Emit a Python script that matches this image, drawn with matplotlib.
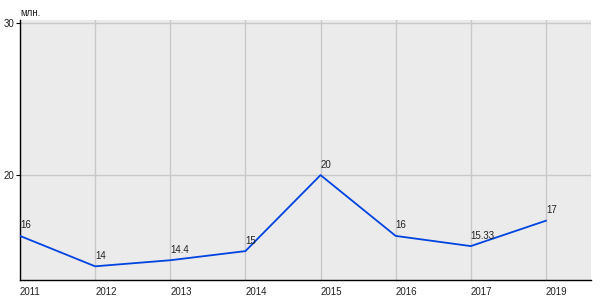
import matplotlib
matplotlib.use("Agg")
import matplotlib.pyplot as plt

plt.rcParams['font.family'] = ['Liberation Sans', 'DejaVu Sans']

years = ["2011", "2012", "2013", "2014", "2015", "2016", "2017", "2019"]
values = [16, 14, 14.4, 15, 20, 16, 15.33, 17]
labels = ["16", "14", "14.4", "15", "20", "16", "15.33", "17"]
yticks = [20, 30]
unit = "млн."

fig = plt.figure(figsize=(6, 3), dpi=100)
ax = fig.add_axes([20/600, 20/300, 571/600, 260/300])
ax.set_facecolor("#EBEBEB")
x = list(range(len(years)))
ax.plot(x, values, color="#0044E0", lw=1.3, zorder=3)
for xi, v, lab in zip(x, values, labels):
    ax.annotate(lab, (xi, v), xytext=(0, 4), textcoords="offset points",
                fontsize=7, color="#222222", ha="left", va="bottom")
ax.set_xlim(0, 7.6)
ax.set_ylim(13.1, 30.2)
ax.set_xticks(x)
ax.set_xticklabels(years, fontsize=7, color="#222222")
ax.set_yticks(yticks)
ax.set_yticklabels([str(t) for t in yticks], fontsize=7, color="#222222")
ax.grid(True, color="#C8C8C8", lw=1)
ax.set_axisbelow(True)
for s in ["top", "right"]:
    ax.spines[s].set_visible(False)
for s in ["left", "bottom"]:
    ax.spines[s].set_color("black")
    ax.spines[s].set_linewidth(1)
ax.tick_params(axis="y", length=3, width=0.8, pad=1)
ax.tick_params(axis="x", length=0, pad=5)
for t in ax.get_xticklabels():
    t.set_ha("left")
fig.text(20/600, 1 - 13/300, unit, fontsize=7, ha="left", va="center", color="#222222")
fig.savefig("out.png", dpi=100)
